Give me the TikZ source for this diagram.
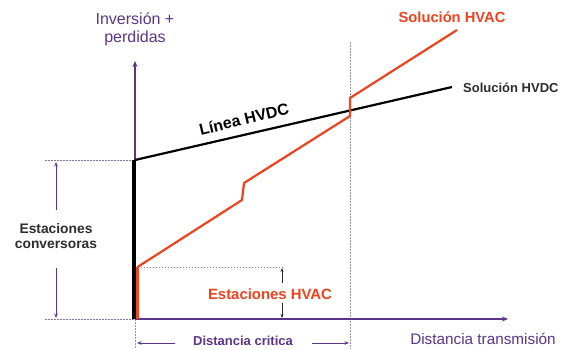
\documentclass[tikz,border=0pt]{standalone}
\usepackage{fontspec}
\setmainfont{Liberation Sans}
\usetikzlibrary{arrows.meta}
\definecolor{axpurple}{RGB}{92,52,140}
\definecolor{hvred}{RGB}{240,66,28}
\definecolor{txtgrey}{RGB}{45,45,45}
\definecolor{dotgrey}{RGB}{150,150,175}
\tikzset{
  axis/.style={axpurple,line width=1.8pt,-{Stealth[length=6pt,width=5pt]}},
  guide/.style={axpurple!70,line width=0.7pt,dash pattern=on 1.5pt off 1.5pt},
  vguide/.style={dotgrey,line width=0.7pt,dash pattern=on 1.5pt off 1.5pt},
  dimarrow/.style={axpurple,line width=1pt,-{Stealth[length=4.5pt,width=3.5pt]}},
  smallarrow/.style={black!85,line width=0.8pt,-{Stealth[length=4pt,width=3pt]}},
  hvdc/.style={black,line width=2.2pt},
  hvac/.style={hvred,line width=2.2pt},
  lbl/.style={inner sep=0pt,font=\fontsize{#1}{#1}\selectfont},
}
\begin{document}
\begin{tikzpicture}[x=1pt,y=-1pt]
\useasboundingbox (0,0) rectangle (565,349);
% key coordinates
\coordinate (O) at (135,319);
\coordinate (Ytop) at (135,61);
\coordinate (Xend) at (508,319);
\coordinate (dcS) at (135,160);
\coordinate (dcX) at (350,110.5);
\coordinate (dcE) at (452,87);
\coordinate (acS) at (137.5,267);
\coordinate (ac1) at (242,200);
\coordinate (ac2) at (244,183);
\coordinate (ac3) at (350,116);
\coordinate (ac4) at (350,98);
\coordinate (acE) at (457,30);
\coordinate (crT) at (350,42);
\coordinate (crB) at (350,349);
\coordinate (oB) at (135,349);
\coordinate (gL1) at (45,160);
\coordinate (gL2) at (45,319);
\coordinate (gR) at (284,267);
% guides
\draw[guide] (gL1) -- (dcS);
\draw[guide] (gL2) -- (O);
\draw[guide] (acS) -- (gR);
\draw[vguide] (crT) -- (crB);
\draw[vguide] (O) -- (oB);
% axes
\draw[axis] (O) -- (Xend);
\draw[axis] (O) -- (Ytop);
% HVDC
\draw[black,line width=4.5pt] (134,319) -- (134,160);
\draw[hvdc,line join=round] (dcS) -- (dcX) -- (dcE);
% HVAC
\draw[hvred,line width=3.5pt] (acS |- O) -- (acS);
\draw[hvac,line join=round] (acS) -- (ac1) -- (ac2) -- (ac3) -- (ac4) -- (acE);
% labels
\node[lbl=16,text=axpurple] (inv) at (135,19) {Inversión +};
\node[lbl=16,text=axpurple] (per) at (135,38) {perdidas};
\node[lbl=14.7,text=hvred,font=\bfseries\fontsize{14.7}{14.7}\selectfont] (shvac) at (452,17) {Solución HVAC};
\node[lbl=13,text=txtgrey,font=\bfseries\fontsize{13}{13}\selectfont,anchor=west] (shvdc) at (463,88) {Solución HVDC};
\node[lbl=16,font=\bfseries\fontsize{16}{16}\selectfont,rotate=13.5] (lin) at (244,119) {Línea HVDC};
\node[lbl=13.8,text=txtgrey,font=\bfseries\fontsize{13.8}{13.8}\selectfont] (est) at (56,229) {Estaciones};
\node[lbl=13.8,text=txtgrey,font=\bfseries\fontsize{13.8}{13.8}\selectfont] (conv) at (56,245) {conversoras};
\node[lbl=14.9,text=hvred,font=\bfseries\fontsize{14.9}{14.9}\selectfont] (ehvac) at (270,294) {Estaciones HVAC};
\node[lbl=13,text=axpurple,font=\bfseries\fontsize{13}{13}\selectfont] (dcrit) at (243,341) {Distancia critica};
\node[lbl=15.3,text=axpurple] (dtr) at (483,339) {Distancia transmisión};
% dimension arrows
\coordinate (la1) at (56,210);
\coordinate (la1e) at (56,162);
\coordinate (la2) at (56,268);
\coordinate (la2e) at (56,318);
\draw[dimarrow] (la1) -- (la1e);
\draw[dimarrow] (la2) -- (la2e);
\coordinate (ra1) at (282,283);
\coordinate (ra1e) at (282,268);
\coordinate (ra2) at (282,303);
\coordinate (ra2e) at (282,318);
\draw[smallarrow] (ra1) -- (ra1e);
\draw[smallarrow] (ra2) -- (ra2e);
\coordinate (ba1) at (175,343);
\coordinate (ba1e) at (137,343);
\coordinate (ba2) at (312,343);
\coordinate (ba2e) at (349,343);
\draw[dimarrow] (ba1) -- (ba1e);
\draw[dimarrow] (ba2) -- (ba2e);
\end{tikzpicture}
\end{document}
